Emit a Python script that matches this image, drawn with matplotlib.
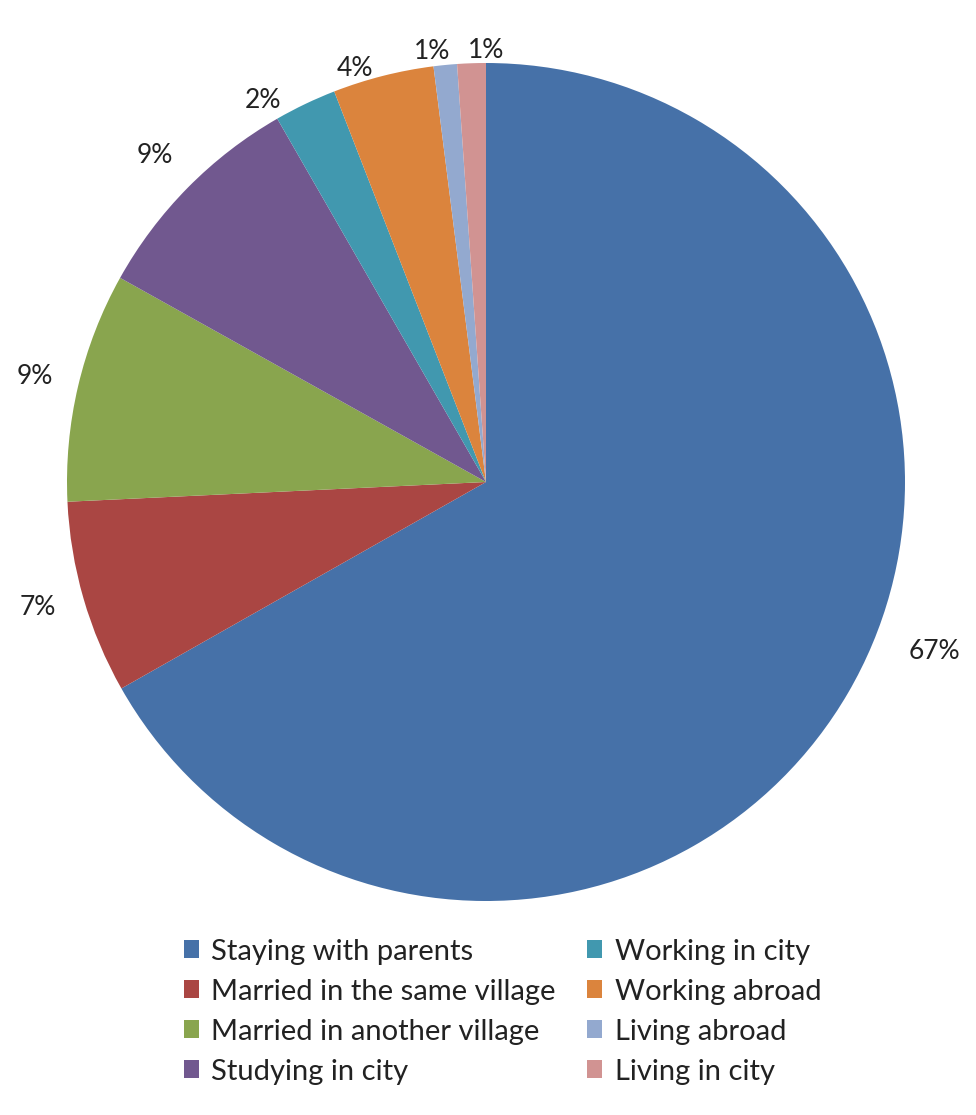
import numpy as np
import matplotlib
matplotlib.use("Agg")
import matplotlib.pyplot as plt

# -------------------------
# Data
# -------------------------
categories = [
    "Staying with parents",
    "Married in the same village",
    "Married in another village",
    "Studying in city",
    "Working in city",
    "Working abroad",
    "Living abroad",
    "Living in city",
]
shares = [66.8, 7.45, 8.85, 8.6, 2.4, 3.9, 0.9, 1.1]

colors = ["#4671A8", "#AA4643", "#89A54E", "#71588F",
          "#4198AF", "#DB843D", "#93A9CF", "#D19392"]

# label placement: radius (in pie radii) and clockwise shift from mid angle
label_radius = [1.145, 1.11, 1.105, 1.11, 1.055, 1.035, 1.035, 1.03]
label_shift = [-9.5, 0.5, 0.0, 0.0, -4.8, -3.4, -1.6, 2.0]

plt.rcParams['font.family'] = ['Lato', 'DejaVu Sans']

W, H = 976, 1115
fig = plt.figure(figsize=(W / 100, H / 100), dpi=100)

# pie axes: centre (486, 482) px from top-left, radius 419 px
cx, cy, R = 486, 482, 419
ax = fig.add_axes([(cx - R) / W, (H - cy - R) / H, 2 * R / W, 2 * R / H])
wedges, _ = ax.pie(shares, colors=colors, startangle=90, counterclock=False,
                   radius=1.0, wedgeprops=dict(linewidth=0))
ax.set_xlim(-1, 1)
ax.set_ylim(-1, 1)
ax.set_aspect("equal")
ax.axis("off")

# percentage labels outside the pie
for w, v, r, s in zip(wedges, shares, label_radius, label_shift):
    ang = np.deg2rad((w.theta1 + w.theta2) / 2 - s)
    ax.text(r * np.cos(ang), r * np.sin(ang), f"{v:.0f}%",
            ha="center", va="center", fontsize=19, color="#222222",
            clip_on=False)

leg = fig.legend(wedges, categories, ncol=2, frameon=False,
                 loc="upper left", bbox_to_anchor=(169 / W, 1 - 924 / H),
                 fontsize=21, borderpad=0, handlelength=0.52, handleheight=0.55,
                 handletextpad=0.43, columnspacing=1.08, labelspacing=0.48)
for t in leg.get_texts():
    t.set_color("#222222")

fig.savefig("out.png", dpi=100, facecolor="white")
